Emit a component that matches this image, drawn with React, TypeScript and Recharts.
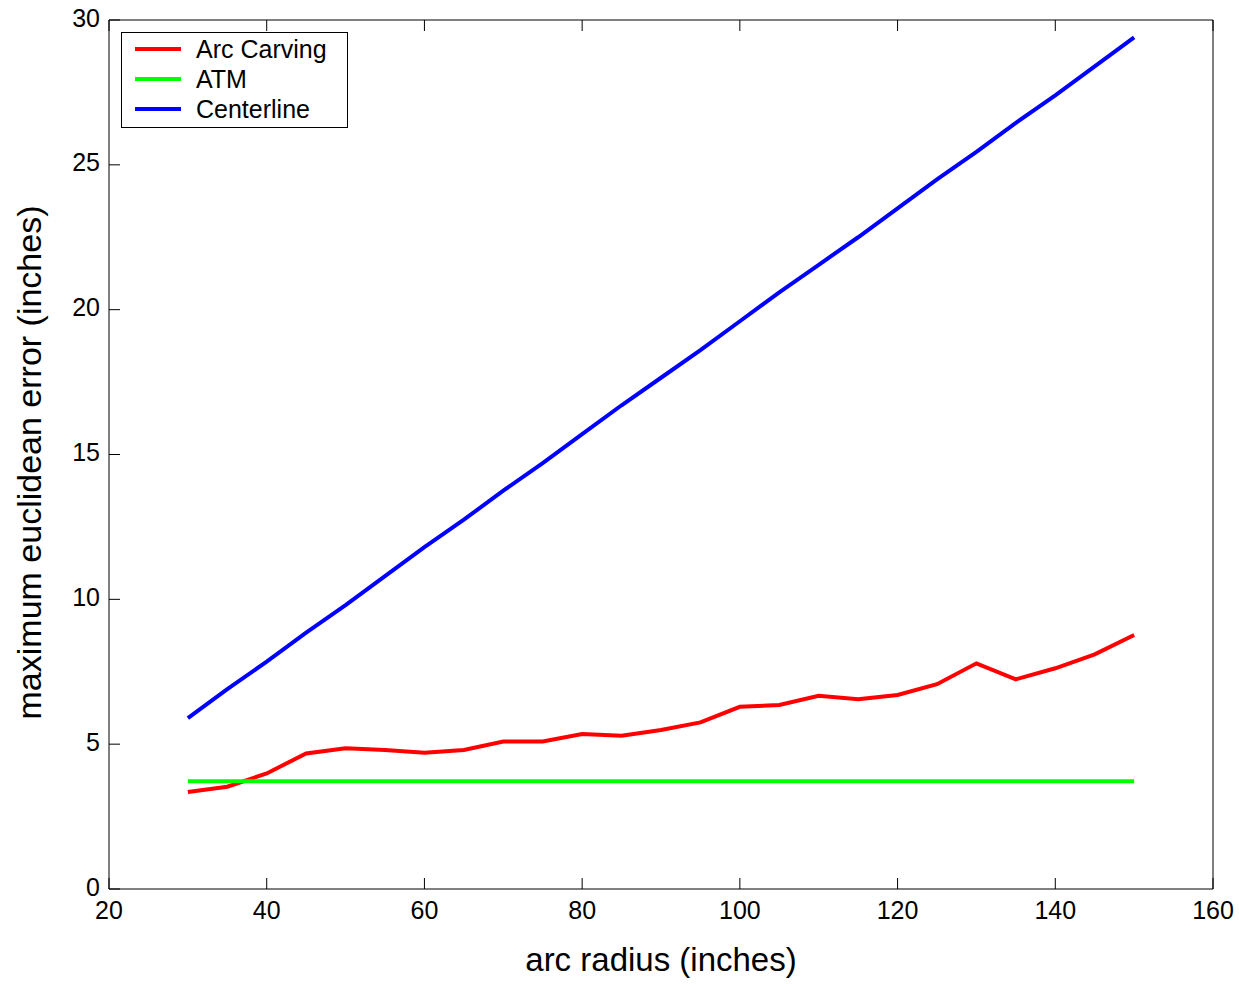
import React from "react";
import { LineChart, Line, XAxis, YAxis, Legend } from "recharts";

const radius = [30, 35, 40, 45, 50, 55, 60, 65, 70, 75, 80, 85, 90, 95, 100, 105, 110, 115, 120, 125, 130, 135, 140, 145, 150];
const arcCarving = [3.35, 3.53, 3.99, 4.68, 4.86, 4.8, 4.7, 4.8, 5.09, 5.09, 5.35, 5.29, 5.49, 5.75, 6.29, 6.35, 6.67, 6.55, 6.7, 7.07, 7.79, 7.24, 7.62, 8.1, 8.77];
const atm = [3.72, 3.72, 3.72, 3.72, 3.72, 3.72, 3.72, 3.72, 3.72, 3.72, 3.72, 3.72, 3.72, 3.72, 3.72, 3.72, 3.72, 3.72, 3.72, 3.72, 3.72, 3.72, 3.72, 3.72, 3.72];
const centerline = [5.9, 6.9, 7.85, 8.85, 9.8, 10.8, 11.8, 12.75, 13.75, 14.7, 15.7, 16.7, 17.65, 18.6, 19.6, 20.6, 21.55, 22.5, 23.5, 24.5, 25.45, 26.45, 27.4, 28.4, 29.4];
const xTicks = [20, 40, 60, 80, 100, 120, 140, 160];
const yTicks = [0, 5, 10, 15, 20, 25, 30];
const seriesNames = ["Arc Carving", "ATM", "Centerline"];

const data = radius.map((r, i) => ({
  r,
  arc: arcCarving[i],
  atm: atm[i],
  center: centerline[i],
}));

const FONT = "Arial, 'Liberation Sans', sans-serif";
const TICK_LEN = 11;
const X_MARGIN = 23;
const Y_MARGIN = 9;
const EDGE_MARGIN = 4;

const BottomTick = (p: any) => (
  <g>
    <line x1={p.x} x2={p.x} y1={p.y - X_MARGIN} y2={p.y - X_MARGIN - TICK_LEN} stroke="#000" />
    <text x={p.x} y={p.y} textAnchor="middle" dominantBaseline="middle" fill="#000" fontSize={25} fontFamily={FONT}>
      {p.payload.value}
    </text>
  </g>
);

const LeftTick = (p: any) => (
  <g>
    <line x1={p.x + Y_MARGIN} x2={p.x + Y_MARGIN + TICK_LEN} y1={p.y} y2={p.y} stroke="#000" />
    <text x={p.x} y={p.y} textAnchor="end" dominantBaseline="middle" fill="#000" fontSize={25} fontFamily={FONT}>
      {p.payload.value}
    </text>
  </g>
);

const TopTick = (p: any) => (
  <line x1={p.x} x2={p.x} y1={p.y + EDGE_MARGIN} y2={p.y + EDGE_MARGIN + TICK_LEN} stroke="#000" />
);

const RightTick = (p: any) => (
  <line x1={p.x - EDGE_MARGIN} x2={p.x - EDGE_MARGIN - TICK_LEN} y1={p.y} y2={p.y} stroke="#000" />
);

const YLabel = (p: any) => {
  const vb = p.viewBox || {};
  const cx = vb.x - 17;
  const cy = vb.y + vb.height / 2 + 8;
  return (
    <text
      x={cx}
      y={cy}
      transform={`rotate(-90, ${cx}, ${cy})`}
      textAnchor="middle"
      dominantBaseline="middle"
      fill="#000"
      fontSize={34}
      fontFamily={FONT}
    >
      maximum euclidean error (inches)
    </text>
  );
};

const LegendBox = (props: any) => {
  const payload = [...(props.payload || [])].sort(
    (a: any, b: any) => seriesNames.indexOf(a.value) - seriesNames.indexOf(b.value)
  );
  return (
    <div
      style={{
        border: "1px solid #000",
        background: "#fff",
        width: 227,
        height: 96,
        boxSizing: "border-box",
        padding: "1px 0 0 13px",
        fontFamily: FONT,
        fontSize: 25,
        lineHeight: "30px",
      }}
    >
      {payload.map((p: any) => (
        <div key={p.value} style={{ display: "flex", alignItems: "center", height: 30 }}>
          <div style={{ width: 46, height: 4, background: p.color, marginRight: 15 }} />
          <span style={{ color: "#000" }}>{p.value}</span>
        </div>
      ))}
    </div>
  );
};

export default function App() {
  return (
    <div style={{ position: "absolute", left: 0, top: 0, width: 1239, height: 984, background: "#fff" }}>
      <LineChart
        width={1239}
        height={984}
        data={data}
        margin={{ top: 19, right: 25, left: 49, bottom: 35 }}
      >
        <XAxis
          dataKey="r"
          type="number"
          domain={[20, 160]}
          ticks={xTicks}
          tickSize={0}
          tickLine={false}
          tickMargin={X_MARGIN}
          height={60}
          stroke="#000"
          tick={<BottomTick />}
          label={{ value: "arc radius (inches)", position: "insideBottom", offset: -22, fill: "#000", fontSize: 33, fontFamily: FONT }}
        />
        <XAxis
          xAxisId="top"
          orientation="top"
          dataKey="r"
          type="number"
          domain={[20, 160]}
          ticks={xTicks}
          tickSize={0}
          tickLine={false}
          tickMargin={EDGE_MARGIN}
          tick={<TopTick />}
          height={1}
          stroke="#000"
        />
        <YAxis
          type="number"
          domain={[0, 30]}
          ticks={yTicks}
          tickSize={0}
          tickLine={false}
          tickMargin={Y_MARGIN}
          width={60}
          stroke="#000"
          tick={<LeftTick />}
          label={{ content: <YLabel /> } as any}
        />
        <YAxis
          yAxisId="right"
          orientation="right"
          type="number"
          domain={[0, 30]}
          ticks={yTicks}
          tickSize={0}
          tickLine={false}
          tickMargin={EDGE_MARGIN}
          tick={<RightTick />}
          width={1}
          stroke="#000"
        />
        <Legend
          layout="vertical"
          verticalAlign="middle"
          align="center"
          itemSorter={null as any}
          content={<LegendBox />}
          wrapperStyle={{ left: 121, top: 32, width: 227, height: 96 }}
        />
        <Line name="Arc Carving" dataKey="arc" stroke="#ff0000" strokeWidth={4} dot={false} isAnimationActive={false} />
        <Line name="ATM" dataKey="atm" stroke="#00ff00" strokeWidth={4} dot={false} isAnimationActive={false} />
        <Line name="Centerline" dataKey="center" stroke="#0000ff" strokeWidth={4} dot={false} isAnimationActive={false} />
      </LineChart>
    </div>
  );
}
